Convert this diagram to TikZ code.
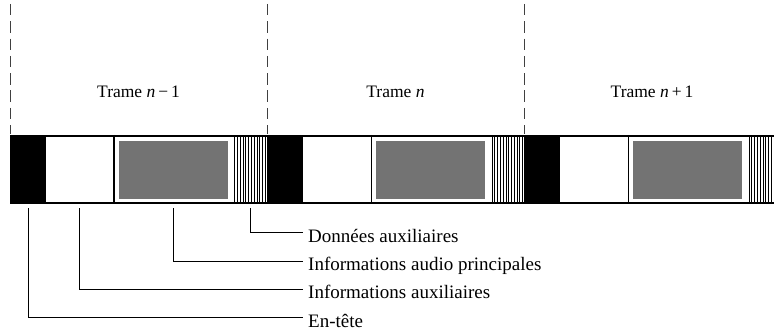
\documentclass[tikz,border=0pt]{standalone}
\usepackage{fontspec}
\setmainfont{Liberation Serif}
\begin{document}
\begin{tikzpicture}[x=1pt,y=-1pt,
  hdrbox/.style={fill=black,draw=none,inner sep=0pt,minimum width=36pt,minimum height=69.6pt},
  auxbox/.style={draw=none,inner sep=0pt,minimum width=67.3pt,minimum height=66pt},
  audiobox/.style={fill=black!55,draw=none,inner sep=0pt,minimum width=109pt,minimum height=58pt},
  databox/.style={draw=none,inner sep=0pt,minimum width=34pt,minimum height=66pt},
  stripe/.style={line width=0.9pt},
  framesep/.style={black!75,line width=0.9pt,dash pattern=on 11.5pt off 5.8pt},
  leader/.style={line width=0.9pt},
  title/.style={font=\fontsize{17.5}{20}\selectfont,anchor=base,inner sep=0pt},
  lbl/.style={font=\fontsize{19}{22}\selectfont,anchor=base west,inner sep=0pt}]
\useasboundingbox (0,0) rectangle (774,334);
\begin{scope}
\clip (0,0) rectangle (774,334);
% frame separators
\foreach \s in {10,267.5,524.3} {
  \draw[framesep] (\s,4) -- (\s,134);
}
% bar outline
\draw[line width=2pt] (10,135.7) -- (774,135.7);
\draw[line width=2.4pt] (10,202.9) -- (774,202.9);
% frames
\foreach \i/\s in {1/10,2/267.3,3/524.3} {
  \node[hdrbox] (hdr\i) at (\s+18,169.5) {};
  \node[auxbox] (aux\i) at (\s+69.7,169.5) {};
  \draw[line width=1.8pt] (\s+104.2,135) -- (\s+104.2,203);
  \node[audiobox] (audio\i) at (\s+163.5,170) {};
  \node[databox] (data\i) at (\s+240.5,169.5) {};
  \foreach \k in {0,...,11} {
    \draw[stripe] (\s+224.8+\k*2.78,136.5) -- (\s+224.8+\k*2.78,202);
  }
}
\end{scope}
% titles
\node[title] (tr1) at (138.5,97.7) {Trame \textit{n}\,−\,1};
\node[title] (tr2) at (395.5,97.7) {Trame \textit{n}};
\node[title] (tr3) at (652,97.7) {Trame \textit{n}\,+\,1};
% leaders
\coordinate (lev) at (0,208.3);
\coordinate (e1) at (302.5,232.6);
\coordinate (e2) at (302.5,261);
\coordinate (e3) at (302.5,289);
\coordinate (e4) at (302.5,317.3);
\draw[leader] (data1.south |- lev) |- (e1);
\draw[leader] (audio1.south |- lev) |- (e2);
\draw[leader] (aux1.south |- lev) |- (e3);
\draw[leader] (hdr1.south |- lev) |- (e4);
\node[lbl] (t1) at (308,242.4) {Données auxiliaires};
\node[lbl] (t2) at (308,270.8) {Informations audio principales};
\node[lbl] (t3) at (308,298.8) {Informations auxiliaires};
\node[lbl] (t4) at (308,327.1) {En-tête};
\end{tikzpicture}
\end{document}
